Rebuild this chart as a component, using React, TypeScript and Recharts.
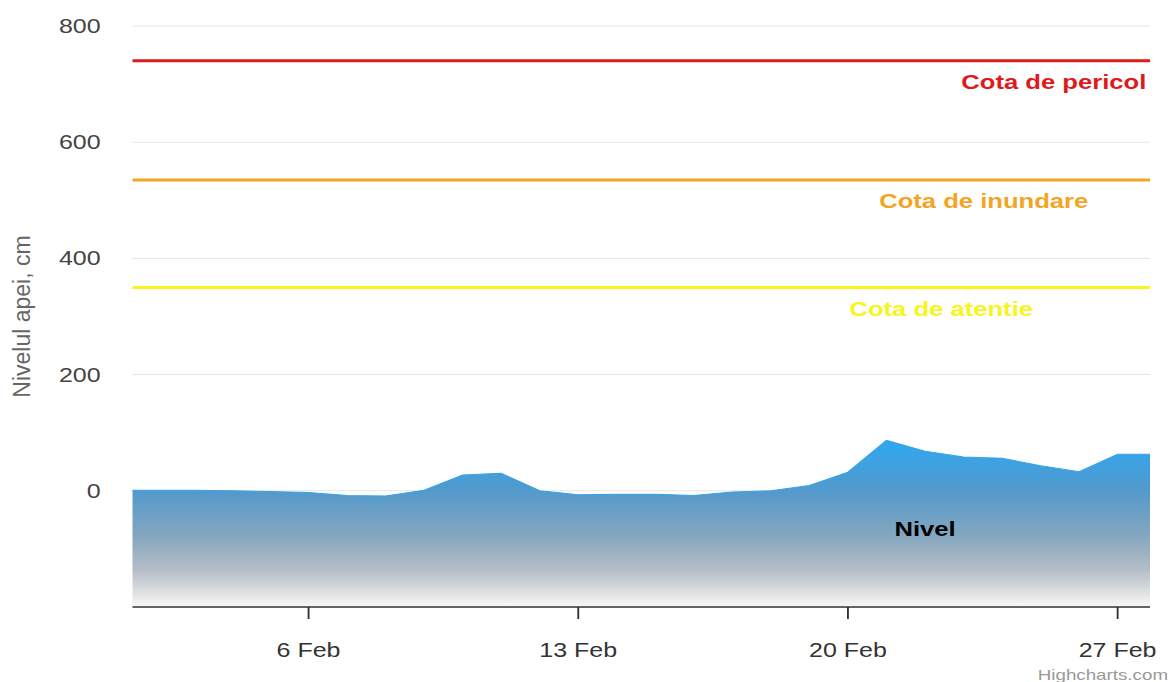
import React from 'react';
import { AreaChart, Area, XAxis, YAxis, CartesianGrid, ReferenceLine, ReferenceDot } from 'recharts';

// day of February for every reading (first and last are partial days)
const days = [1.43, 2, 3, 4, 5, 6, 7, 8, 9, 10, 11, 12, 13, 14, 15, 16, 17, 18, 19, 20, 21, 22, 23, 24, 25, 26, 27, 27.84];
// water level, cm
const levels = [1, 1, 1, 0, -1, -3, -8, -9, 1, 27, 30, 0, -7, -6, -6, -8, -2, 0, 9, 32, 87, 68, 58, 56, 43, 33, 63, 63];

const xTicks = [6, 13, 20, 27];
const yTicks = [0, 200, 400, 600, 800];

const thresholdNames = ['Cota de pericol', 'Cota de inundare', 'Cota de atentie'];
const thresholdValues = [740, 535, 350];

const data = days.map((day, i) => ({ day, level: levels[i] }));

// the reference picture is stretched horizontally, so the whole chart is too
const STRETCH = 1.25;
const W = 1170 / STRETCH;

const thresholdStyles = [
  { color: '#de1a1c', anchor: 'end', fromRight: 3 },
  { color: '#f3a424', anchor: 'middle', fromRight: 133 },
  { color: '#f7f51c', anchor: 'middle', fromRight: 167 },
];

const lineLabel = (text: string, color: string, anchor: string, fromRight: number) => (props: any) => {
  const vb = props.viewBox;
  return (
    <text
      x={vb.x + vb.width - fromRight}
      y={vb.y + 21}
      textAnchor={anchor as any}
      dominantBaseline="central"
      fill={color}
      fontSize={20.5}
      fontWeight="bold"
    >
      {text}
    </text>
  );
};

const yTitle = (props: any) => {
  const vb = props.viewBox;
  const cx = vb.x + 22 / STRETCH;
  const cy = vb.y + vb.height / 2;
  return (
    <text
      transform={`translate(${cx},${cy}) scale(${1 / STRETCH},1) rotate(-90)`}
      textAnchor="middle"
      dominantBaseline="central"
      fill="#666"
      fontSize={23}
    >
      Nivelul apei, cm
    </text>
  );
};

export default function App() {
  return (
    <div style={{ position: 'absolute', left: 0, top: 0, width: 1170, height: 682, overflow: 'hidden', background: '#fff', fontFamily: '"Liberation Sans", Arial, sans-serif' }}>
      <div style={{ position: 'relative', width: W, height: 682, transform: `scaleX(${STRETCH})`, transformOrigin: '0 0' }}>
        <AreaChart width={W} height={682} data={data} margin={{ top: 26, right: 16, left: 0, bottom: 15 }}>
          <defs>
            <linearGradient id="nivelGrad" x1="0" y1="0" x2="0" y2="1">
              <stop offset="0%" stopColor="#2ea8f2" />
              <stop offset="30%" stopColor="#5299cc" />
              <stop offset="58%" stopColor="#86a7bf" />
              <stop offset="78%" stopColor="#b5bec8" />
              <stop offset="92%" stopColor="#e0e2e4" />
              <stop offset="100%" stopColor="#f8f8f8" />
            </linearGradient>
          </defs>
          <CartesianGrid vertical={false} stroke="#e6e6e6" />
          <XAxis
            dataKey="day"
            type="number"
            domain={['dataMin', 'dataMax']}
            ticks={xTicks}
            tickFormatter={(d) => `${d} Feb`}
            height={60}
            stroke="#333"
            strokeWidth={1.5}
            tickSize={12}
            tickMargin={24}
            tick={{ fill: '#333', fontSize: 20 }}
          />
          <YAxis
            type="number"
            domain={[-200, 800]}
            ticks={yTicks}
            width={106}
            axisLine={false}
            tickLine={false}
            tickSize={0}
            tickMargin={25.5}
            tick={{ fill: '#444', fontSize: 20 }}
            label={yTitle}
          />
          <Area
            type="linear"
            dataKey="level"
            baseValue="dataMin"
            fill="url(#nivelGrad)"
            fillOpacity={1}
            stroke="#38a2e6"
            strokeWidth={1}
            dot={false}
            activeDot={false}
            isAnimationActive={false}
          />
          {thresholdValues.map((v, i) => (
            <ReferenceLine
              key={thresholdNames[i]}
              y={v}
              stroke={thresholdStyles[i].color}
              strokeWidth={3}
              label={lineLabel(thresholdNames[i], thresholdStyles[i].color, thresholdStyles[i].anchor, thresholdStyles[i].fromRight)}
            />
          ))}
          <ReferenceDot
            x={22}
            y={-66}
            r={0}
            fill="none"
            stroke="none"
            label={{ value: 'Nivel', position: 'center', fill: '#000', fontSize: 20.5, fontWeight: 'bold' }}
          />
        </AreaChart>
        <div style={{ position: 'absolute', right: 1.6, top: 666, fontSize: 15, color: '#999', lineHeight: '17px' }}>
          Highcharts.com
        </div>
      </div>
    </div>
  );
}
